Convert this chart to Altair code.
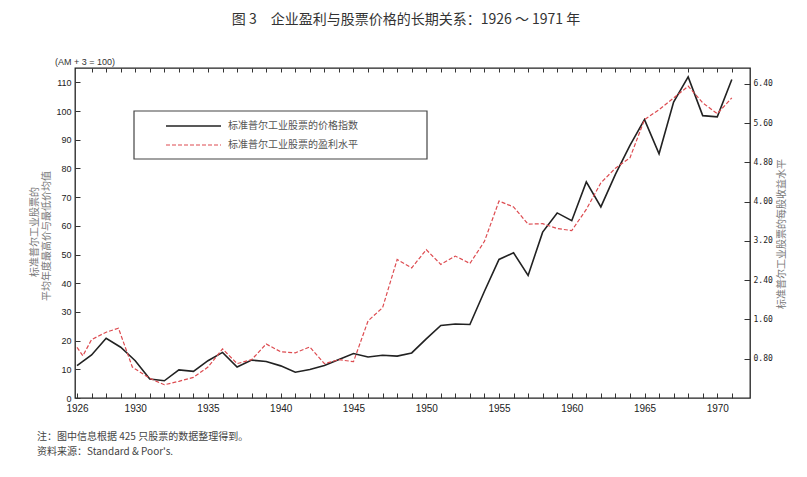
import altair as alt
import pandas as pd

# ---- data ----
price_years = list(range(1926, 1972))
price_index = [11.3, 15.0, 20.8, 17.7, 13.0, 6.6, 6.0, 9.8, 9.3, 13.0,
               15.9, 10.8, 13.2, 12.7, 11.2, 9.0, 9.9, 11.3, 13.4, 15.5,
               14.3, 14.9, 14.6, 15.7, 20.6, 25.3, 25.8, 25.6, 37.2, 48.3,
               50.6, 42.7, 57.8, 64.5, 61.8, 75.3, 66.6, 77.9, 88.0, 97.0,
               85.1, 103.1, 111.9, 98.4, 98.0, 111.0]

eps_years = [1926, 1926.4, 1927, 1928, 1928.85, 1929.8, 1931, 1932, 1933, 1934,
             1935, 1936, 1937, 1938, 1939, 1940, 1941, 1942, 1943, 1944,
             1945, 1946, 1947, 1948, 1949, 1950, 1951, 1952, 1953, 1954,
             1955, 1956, 1957, 1958, 1959, 1960, 1961, 1962, 1963, 1964,
             1965, 1966, 1967, 1968, 1969, 1970, 1971]
eps_level = [1.03, 0.86, 1.19, 1.34, 1.42, 0.63, 0.40, 0.27, 0.34, 0.42,
             0.63, 1.00, 0.70, 0.78, 1.10, 0.94, 0.92, 1.04, 0.70, 0.78,
             0.74, 1.57, 1.84, 2.82, 2.65, 3.02, 2.72, 2.89, 2.74, 3.19,
             4.01, 3.89, 3.54, 3.55, 3.45, 3.41, 3.84, 4.38, 4.68, 4.89,
             5.67, 5.87, 6.11, 6.35, 6.01, 5.79, 6.11]

left_ticks = list(range(0, 111, 10))
right_ticks = [0.8, 1.6, 2.4, 3.2, 4.0, 4.8, 5.6, 6.4]
x_ticks = list(range(1926, 1972))
top_ticks = list(range(1927, 1972))

series_names = ["标准普尔工业股票的价格指数", "标准普尔工业股票的盈利水平"]
title_text = "图 3　企业盈利与股票价格的长期关系：1926 ～ 1971 年"
left_title = ["标准普尔工业股票的", "平均年度最高价与最低价均值"]
right_title = "标准普尔工业股票的每股收益水平"
unit_note = "(AM + 3 = 100)"
notes = ["注：图中信息根据 425 只股票的数据整理得到。", "资料来源：Standard & Poor's."]

price_df = pd.DataFrame({"year": price_years, "price": price_index})
eps_df = pd.DataFrame({"year": eps_years, "eps": eps_level})
one = pd.DataFrame({"a": [0]})

W, H = 675, 330
BLACK = "#222222"
RED = "#dd4b50"
CJK = "Noto Sans CJK SC"

xscale = alt.Scale(domain=[1925.86, 1972.25], nice=False, zero=False)

price = alt.Chart(price_df).mark_line(color=BLACK, strokeWidth=1.6).encode(
    x=alt.X("year:Q", scale=xscale,
            axis=alt.Axis(values=x_ticks, offset=-5, tickSize=5, domain=False,
                          grid=False, title=None, labelPadding=5,
                          labelOverlap=False, labelFlush=False,
                          labelExpr="(datum.value == 1926 || datum.value % 5 == 0) ? format(datum.value, 'd') : ''",
                          labelFont="Liberation Sans Narrow, Liberation Sans",
                          labelFontSize=10, labelColor="#222", tickColor="#333")),
    y=alt.Y("price:Q", scale=alt.Scale(domain=[0, 115], nice=False),
            axis=alt.Axis(values=left_ticks, offset=-5, tickSize=5, domain=False,
                          grid=False, title=None, labelPadding=4,
                          labelFont="Liberation Sans", labelFontSize=9,
                          labelColor="#222", tickColor="#333", labelFlush=False)),
)

eps = alt.Chart(eps_df).mark_line(color=RED, strokeWidth=1.2, strokeDash=[4, 2]).encode(
    x=alt.X("year:Q", scale=xscale,
            axis=alt.Axis(orient="top", values=top_ticks, offset=-4, tickSize=4,
                          domain=False, grid=False, labels=False, title=None,
                          tickColor="#333")),
    y=alt.Y("eps:Q", scale=alt.Scale(domain=[0, 6.72], nice=False),
            axis=alt.Axis(orient="right", values=right_ticks, format=".2f",
                          offset=-6, tickSize=6, domain=False, grid=False,
                          title=None, labelPadding=3,
                          labelFont="DejaVu Sans Mono", labelFontSize=8,
                          labelColor="#222", tickColor="#333", labelFlush=False)),
)


def txt(s, x, y, size=10, color="#555", align="left", angle=0, font=CJK, baseline="middle"):
    return alt.Chart(one).mark_text(
        align=align, baseline=baseline, fontSize=size, color=color, font=font,
        angle=angle,
    ).encode(x=alt.value(x), y=alt.value(y), text=alt.value(s))


legend_box = alt.Chart(one).mark_rect(fill="white", fillOpacity=0, stroke="#444",
                                      strokeWidth=1.2).encode(
    x=alt.value(59), x2=alt.value(352), y=alt.value(43), y2=alt.value(91))
leg1 = alt.Chart(one).mark_rule(color=BLACK, strokeWidth=1.6).encode(
    x=alt.value(91), x2=alt.value(146), y=alt.value(58))
leg2 = alt.Chart(one).mark_rule(color=RED, strokeWidth=1.2, strokeDash=[4, 2]).encode(
    x=alt.value(91), x2=alt.value(146), y=alt.value(77))

layers = [
    price, eps, legend_box, leg1, leg2,
    txt(series_names[0], 153, 58, 10, "#555"),
    txt(series_names[1], 153, 77, 10, "#555"),
    txt(title_text, 331, -48, 14, "#333", align="center"),
    txt(unit_note, -20, -6, 9, "#333", font="Liberation Sans"),
    txt(left_title[0], -40, 164, 10, "#777", align="center", angle=270),
    txt(left_title[1], -28, 168, 10, "#777", align="center", angle=270),
    txt(right_title, 707, 166, 10, "#777", align="center", angle=270),
    txt(notes[0], -38, 369, 10, "#444"),
    txt(notes[1], -38, 384, 10, "#444"),
]

chart = alt.layer(*layers).resolve_scale(y="independent").resolve_axis(x="independent").properties(
    width=W, height=H,
    autosize=alt.AutoSizeParams(type="none"),
    padding={"left": 67, "top": 60, "right": 49, "bottom": 72},
    background="white",
).configure_view(stroke=BLACK, strokeWidth=1.3)

chart.save("out.html", embed_options={"renderer": "svg", "actions": False})
